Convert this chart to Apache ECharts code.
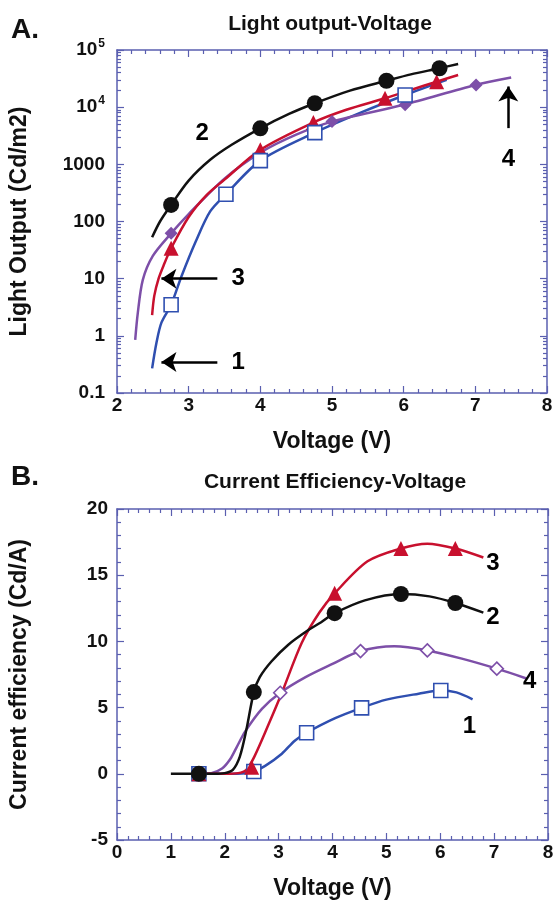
<!DOCTYPE html>
<html>
<head>
<meta charset="utf-8">
<title>Light output and current efficiency vs voltage</title>
<script src="https://cdn.jsdelivr.net/npm/echarts@6/dist/echarts.min.js"></script>
<style>
  html, body { margin: 0; padding: 0; background: #fff; }
  #chart { width: 557px; height: 901px; }
</style>
</head>
<body>
<div id="chart"></div>
<script>
// panel A: light output (cd/m2) vs voltage, log scale. [V, value]
const lumTickLabels = ['0.1', '1', '10', '100', '1000', '10^4', '10^5'];

const lum1 = [[2.49, 0.27], [2.55, 0.75], [2.62, 1.7], [2.755, 3.5], [2.9, 11], [3.1, 45], [3.3, 150], [3.52, 300],
  [4.0, 1160], [4.76, 3580], [5.4, 8000], [6.02, 16300], [6.6, 30000]];
const lum1Marks = [[2.755, 3.5], [3.52, 300], [4.0, 1160], [4.76, 3580], [6.02, 16300]];

const lum2 = [[2.49, 53], [2.6, 100], [2.755, 195], [3.0, 520], [3.3, 1200], [3.6, 2200], [4.0, 4270], [4.4, 7600],
  [4.76, 11700], [5.25, 19500], [5.76, 29000], [6.1, 37500], [6.5, 48000], [6.76, 57000]];
const lum2Marks = [[2.755, 195], [4.0, 4270], [4.76, 11700], [5.76, 29000], [6.5, 48000]];

const lum3 = [[2.49, 2.3], [2.52, 5], [2.58, 10], [2.65, 17], [2.755, 34], [3.0, 120], [3.25, 290], [3.5, 540],
  [4.0, 1800], [4.74, 5400], [5.2, 9000], [5.74, 14300], [6.1, 20000], [6.46, 27900], [6.76, 36600]];
const lum3Marks = [[2.755, 34], [4.0, 1800], [4.74, 5400], [5.74, 14300], [6.46, 27900]];

const lum4 = [[2.254, 0.85], [2.29, 2.5], [2.36, 9.5], [2.5, 25], [2.755, 62], [3.0, 135], [3.5, 560], [4.0, 1600],
  [4.5, 3300], [5.0, 5590], [6.0, 11000], [7.0, 24400], [7.5, 33000]];
const lum4Marks = [[2.755, 62], [5.0, 5590], [6.02, 11000], [7.01, 24400]];

// panel B: current efficiency (cd/A) vs voltage
const eff1 = [[1.4, 0], [1.52, 0], [2.0, 0], [2.4, 0.05], [2.54, 0.17], [2.75, 0.6], [3.06, 1.52], [3.3, 2.5], [3.52, 3.1],
  [4.05, 4.2], [4.54, 4.98], [5.0, 5.6], [5.6, 6.05], [6.01, 6.29], [6.3, 6.15], [6.6, 5.63]];
const eff1Marks = [[1.52, 0], [2.54, 0.17], [3.52, 3.1], [4.54, 4.98], [6.01, 6.29]];

const eff2 = [[1.0, 0], [1.52, 0], [1.8, 0], [2.0, 0.05], [2.15, 0.3], [2.28, 1.3], [2.4, 3.3], [2.54, 6.17], [2.65, 7.3],
  [2.87, 8.5], [3.18, 9.75], [3.55, 10.85], [3.79, 11.45], [4.04, 12.13], [4.6, 13.1], [5.27, 13.58], [5.8, 13.4],
  [6.28, 12.9], [6.8, 12.17]];
const eff2Marks = [[1.52, 0], [2.54, 6.17], [4.04, 12.13], [5.27, 13.58], [6.28, 12.9]];

const eff3 = [[1.4, 0], [1.52, 0], [2.0, 0], [2.25, 0.05], [2.4, 0.3], [2.55, 1.3], [2.81, 3.7], [3.06, 6.12], [3.43, 9.9],
  [3.76, 12.2], [4.04, 13.63], [4.65, 16.05], [5.27, 17.02], [5.76, 17.38], [6.28, 17.02], [6.8, 16.34]];
const eff3Marks = [[1.52, 0], [2.5, 0.5], [4.04, 13.63], [5.27, 17.02], [6.28, 17.02]];

const eff4 = [[1.4, 0], [1.52, 0], [1.75, 0.05], [1.95, 0.4], [2.1, 1.1], [2.22, 2.0], [2.38, 3.2], [2.69, 4.9], [3.03, 6.12],
  [3.5, 7.3], [4.0, 8.3], [4.52, 9.27], [5.15, 9.63], [5.76, 9.32], [6.4, 8.7], [7.05, 7.94], [7.6, 7.2]];
const eff4Marks = [[1.52, 0], [3.03, 6.12], [4.52, 9.27], [5.76, 9.32], [7.05, 7.94]];

// log minor ticks (2..9 per decade), placed on a helper axis in log10 space
const logMinor = [];
for (let e = -1; e < 5; e++) for (let m = 2; m <= 9; m++) logMinor.push(e + Math.log10(m));

const FONT = '"Liberation Sans", Arial, Helvetica, sans-serif';
const AXIS = '#5a5fb0';
const C1 = '#2f4fb0', C2 = '#111111', C3 = '#c8102e', C4 = '#7d4fa8';
const txt = (size) => ({ color: '#111', fontFamily: FONT, fontWeight: 'bold', fontSize: size });
const tickLine = { color: AXIS, width: 1.2 };
const axisLine = { onZero: false, lineStyle: { color: AXIS, width: 1.5 } };

function xAx(grid, min, max, pos, name) {
  return {
    gridIndex: grid, type: 'value', min, max, interval: 1, position: pos,
    axisLine, axisTick: { inside: true, length: 7, lineStyle: tickLine },
    minorTick: { show: true, splitNumber: 5, length: 4, lineStyle: tickLine },
    splitLine: { show: false },
    axisLabel: pos === 'bottom' ? { margin: 3, ...txt(19) } : { show: false },
    name: name || '', nameLocation: 'middle', nameGap: 37, nameTextStyle: txt(23)
  };
}

function curve(data, color, xi, yi, z) {
  return { type: 'line', xAxisIndex: xi, yAxisIndex: yi, data, smooth: 0.3,
    showSymbol: false, symbol: 'none', lineStyle: { color, width: 2.5 }, itemStyle: { color }, z, silent: true };
}
function marks(data, color, symbol, size, hollow, xi, yi) {
  return { type: 'scatter', xAxisIndex: xi, yAxisIndex: yi, data, symbol, symbolSize: size, z: 5, silent: true,
    itemStyle: { color: hollow ? '#fff' : color, borderColor: color, borderWidth: hollow ? 1.6 : 0, opacity: 1 } };
}

const numLabel = { show: true, position: 'inside', formatter: '{b}', ...txt(24), color: '#000' };
const blank = { symbol: 'circle', symbolSize: 1, itemStyle: { color: 'rgba(0,0,0,0)' }, silent: true };

const lineA2 = curve(lum2, C2, 0, 0, 4);
lineA2.markLine = {
  silent: true, symbol: ['none', 'arrow'], symbolSize: 15, animation: false,
  lineStyle: { color: '#000', width: 2.5, type: 'solid' }, label: { show: false },
  data: [
    [{ coord: [3.4, 10] }, { coord: [2.62, 10] }],
    [{ coord: [3.4, 0.35] }, { coord: [2.62, 0.35] }],
    [{ coord: [7.46, 4300] }, { coord: [7.46, 23000] }]
  ]
};
lineA2.markPoint = { ...blank, label: numLabel, data: [
  { name: '2', coord: [3.19, 3550] }, { name: '3', coord: [3.69, 10] },
  { name: '1', coord: [3.69, 0.35] }, { name: '4', coord: [7.46, 1200] }
] };

const lineB2 = curve(eff2, C2, 2, 4, 4);
lineB2.markPoint = { ...blank, label: numLabel, data: [
  { name: '3', coord: [6.98, 15.93] }, { name: '2', coord: [6.98, 11.8] },
  { name: '4', coord: [7.66, 7.0] }, { name: '1', coord: [6.54, 3.58] }
] };

const option = {
  animation: false,
  backgroundColor: '#fff',
  title: [
    { text: 'A.', left: 11, top: 16, padding: 0, textStyle: txt(28) },
    { text: 'Light output-Voltage', left: 330, top: 14, padding: 0, textAlign: 'center', textStyle: txt(21) },
    { text: 'B.', left: 11, top: 463, padding: 0, textStyle: txt(28) },
    { text: 'Current Efficiency-Voltage', left: 335, top: 472, padding: 0, textAlign: 'center', textStyle: txt(21) }
  ],
  grid: [
    { left: 114, top: 50, width: 433, height: 343 },
    { left: 114, top: 509, width: 434, height: 344 }
  ],
  xAxis: [
    xAx(0, 2, 8, 'bottom', 'Voltage (V)'),
    xAx(0, 2, 8, 'top'),
    xAx(1, 0, 8, 'bottom', 'Voltage (V)'),
    xAx(1, 0, 8, 'top')
  ],
  yAxis: [
    {
      gridIndex: 0, type: 'log', logBase: 10, min: 0.1, max: 100000, position: 'left',
      axisLine, axisTick: { inside: true, length: 7, lineStyle: tickLine }, splitLine: { show: false },
      axisLabel: {
        margin: 12, ...txt(19),
        formatter: (v) => {
          const s = lumTickLabels[Math.round(Math.log10(v)) + 1];
          if (s.indexOf('^') < 0) return s;
          const p = s.split('^');
          return '{m|' + p[0] + '}{s|' + p[1] + '}';
        },
        rich: { m: txt(19), s: { ...txt(12), padding: [0, 0, 12, 1] } }
      },
      name: 'Light Output (Cd/m2)', nameLocation: 'middle', nameGap: 86, nameTextStyle: txt(23)
    },
    {
      gridIndex: 0, type: 'log', logBase: 10, min: 0.1, max: 100000, position: 'right',
      axisLine, axisTick: { inside: true, length: 7, lineStyle: tickLine }, splitLine: { show: false },
      axisLabel: { show: false }
    },
    {
      gridIndex: 0, type: 'value', min: -1, max: 5, position: 'left',
      axisLine: { show: false }, splitLine: { show: false }, axisLabel: { show: false },
      axisTick: { inside: true, length: 4, lineStyle: tickLine, customValues: logMinor }
    },
    {
      gridIndex: 0, type: 'value', min: -1, max: 5, position: 'right',
      axisLine: { show: false }, splitLine: { show: false }, axisLabel: { show: false },
      axisTick: { inside: true, length: 4, lineStyle: tickLine, customValues: logMinor }
    },
    {
      gridIndex: 1, type: 'value', min: -5, max: 20, interval: 5, position: 'left',
      axisLine, axisTick: { inside: true, length: 7, lineStyle: tickLine },
      minorTick: { show: true, splitNumber: 5, length: 4, lineStyle: tickLine },
      splitLine: { show: false }, axisLabel: { margin: 9, ...txt(19) },
      name: 'Current efficiency (Cd/A)', nameLocation: 'middle', nameGap: 86, nameTextStyle: txt(23)
    },
    {
      gridIndex: 1, type: 'value', min: -5, max: 20, interval: 5, position: 'right',
      axisLine, axisTick: { inside: true, length: 7, lineStyle: tickLine },
      minorTick: { show: true, splitNumber: 5, length: 4, lineStyle: tickLine },
      splitLine: { show: false }, axisLabel: { show: false }
    }
  ],
  series: [
    curve(lum1, C1, 0, 0, 2),
    curve(lum4, C4, 0, 0, 2),
    curve(lum3, C3, 0, 0, 3),
    lineA2,
    marks(lum4Marks, C4, 'diamond', 13, false, 0, 0),
    marks(lum3Marks, C3, 'triangle', 15, false, 0, 0),
    marks(lum1Marks, C1, 'rect', 14, true, 0, 0),
    marks(lum2Marks, C2, 'circle', 16, false, 0, 0),

    curve(eff1, C1, 2, 4, 2),
    curve(eff4, C4, 2, 4, 2),
    curve(eff3, C3, 2, 4, 3),
    lineB2,
    marks(eff1Marks, C1, 'rect', 14, true, 2, 4),
    marks(eff4Marks, C4, 'diamond', 13, true, 2, 4),
    marks(eff3Marks, C3, 'triangle', 15, false, 2, 4),
    marks(eff2Marks, C2, 'circle', 16, false, 2, 4)
  ]
};

const chart = echarts.init(document.getElementById('chart'));
chart.setOption(option);
window.addEventListener('resize', () => chart.resize());
</script>
</body>
</html>
